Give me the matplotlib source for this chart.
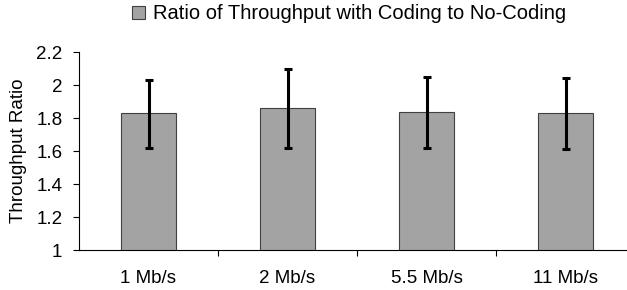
import matplotlib
matplotlib.use("Agg")
import matplotlib.pyplot as plt
import numpy as np

rates = ["1 Mb/s", "2 Mb/s", "5.5 Mb/s", "11 Mb/s"]
ratio = [1.828, 1.860, 1.834, 1.828]
err_low = [0.207, 0.239, 0.213, 0.213]
err_high = [0.205, 0.235, 0.217, 0.217]

plt.rcParams["font.family"] = ["Liberation Sans", "DejaVu Sans"]
plt.rcParams["font.size"] = 13.5

fig = plt.figure(figsize=(6.27, 2.90), dpi=100)
ax = fig.add_axes([79 / 627, 1 - 250.3 / 290, (635 - 79) / 627, (250.3 - 52) / 290])

x = np.arange(len(rates))
ax.bar(x, ratio, width=0.40, bottom=0, color="#a3a3a3", edgecolor="#404040",
       linewidth=0.8, label="Ratio of Throughput with Coding to No-Coding")
ax.errorbar(x, ratio, yerr=[err_low, err_high], fmt="none", ecolor="black",
            elinewidth=2.2, capsize=3, capthick=2.2)

ax.set_xlim(-0.5, len(rates) - 0.5)
ax.set_ylim(1, 2.2)
ax.set_yticks(np.arange(1, 2.21, 0.2))
ax.set_yticklabels(["1", "1.2", "1.4", "1.6", "1.8", "2", "2.2"])
ax.set_xticks(x)
ax.set_xticklabels(rates)
ax.set_xticks(np.arange(0.5, len(rates) - 0.5, 1), minor=True)
ax.tick_params(axis="x", which="major", length=0, pad=14)
ax.tick_params(axis="x", which="minor", length=4, direction="out", width=0.8)
ax.tick_params(axis="y", length=4, direction="out", width=0.8, pad=8)
ax.spines["top"].set_visible(False)
ax.spines["right"].set_visible(False)
ax.spines["left"].set_linewidth(0.8)
ax.spines["bottom"].set_linewidth(0.8)
ax.set_ylabel("Throughput Ratio")
ax.yaxis.set_label_coords(-(79 - 27) / 556, 0.5)

fig.legend(loc="center", bbox_to_anchor=(349 / 627, 0.952), frameon=False,
           fontsize=14.5, handlelength=0.65, handleheight=0.65,
           handletextpad=0.35)

fig.savefig("out.png", dpi=100)
